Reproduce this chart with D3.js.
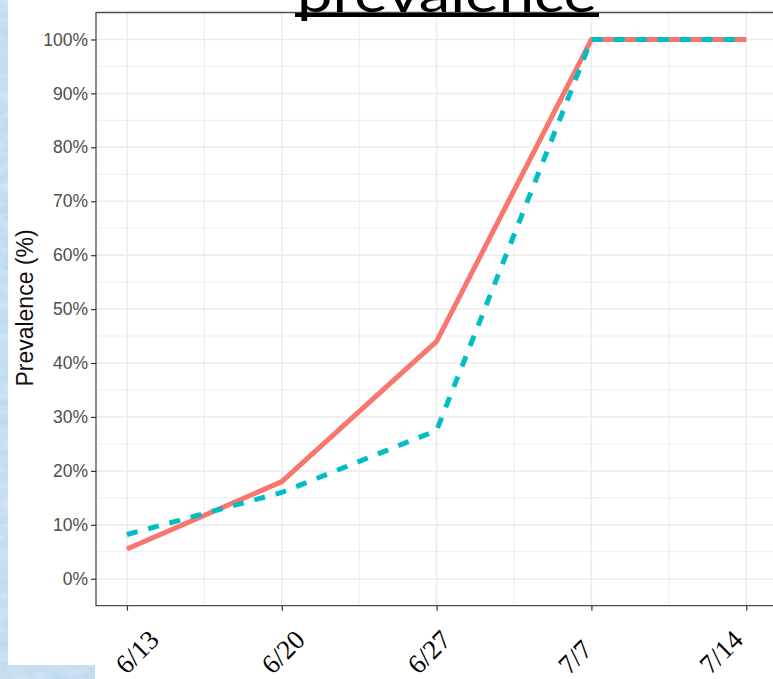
<!DOCTYPE html>
<html>
<head>
<meta charset="utf-8">
<script src="https://cdn.jsdelivr.net/npm/d3@7"></script>
<style>
  html, body { margin: 0; padding: 0; background: #ffffff; }
  svg { display: block; }
</style>
</head>
<body>
<div id="chart"></div>
<script>
// survey weeks and the two prevalence series (fractions)
const weeks = ["6/13", "6/20", "6/27", "7/7", "7/14"];
const solidSeries = [0.055, 0.18, 0.44, 1.00, 1.00];
const dashedSeries = [0.082, 0.16, 0.275, 1.00, 1.00];
const yTicks = [0, 0.1, 0.2, 0.3, 0.4, 0.5, 0.6, 0.7, 0.8, 0.9, 1.0];
const yMinor = [0.05, 0.15, 0.25, 0.35, 0.45, 0.55, 0.65, 0.75, 0.85, 0.95];
const xMinor = [1.5, 2.5, 3.5, 4.5];

const width = 773, height = 679;

const svg = d3.select("#chart").append("svg")
    .attr("width", width)
    .attr("height", height);

// slide background (blue texture) and the white picture box
const defs = svg.append("defs");
const filt = defs.append("filter").attr("id", "tex");
filt.append("feTurbulence").attr("type", "fractalNoise")
    .attr("baseFrequency", "0.06 0.12").attr("numOctaves", 3).attr("seed", 4);
filt.append("feColorMatrix").attr("type", "matrix")
    .attr("values", "0 0 0 0 0.66  0 0 0 0 0.80  0 0 0 0 0.92  0 0 0 -0.9 1.05");
svg.append("rect").attr("width", width).attr("height", height).attr("fill", "#b3d1ec");
svg.append("rect").attr("width", width).attr("height", height).attr("filter", "url(#tex)");

svg.append("path")
    .attr("d", "M8,0H773V679H95V665H8Z")
    .attr("fill", "#ffffff");

// scales (continuous x with 5% expansion, y from -5% to 105%)
const x = d3.scaleLinear().domain([0.8, 5.2]).range([96, 777.2]);
const y = d3.scaleLinear().domain([-0.05, 1.05]).range([605.7, 12.5]);

const panel = svg.append("g");

// gridlines
panel.selectAll(".ymin").data(yMinor).enter().append("line")
    .attr("x1", 96).attr("x2", width)
    .attr("y1", d => y(d)).attr("y2", d => y(d))
    .attr("stroke", "#ededed").attr("stroke-width", 1);
panel.selectAll(".xmin").data(xMinor).enter().append("line")
    .attr("x1", d => x(d)).attr("x2", d => x(d))
    .attr("y1", y(1.05)).attr("y2", y(-0.05))
    .attr("stroke", "#ededed").attr("stroke-width", 1);
panel.selectAll(".ymaj").data(yTicks).enter().append("line")
    .attr("x1", 96).attr("x2", width)
    .attr("y1", d => y(d)).attr("y2", d => y(d))
    .attr("stroke", "#ebebeb").attr("stroke-width", 1.5);
panel.selectAll(".xmaj").data(weeks).enter().append("line")
    .attr("x1", (d, i) => x(i + 1)).attr("x2", (d, i) => x(i + 1))
    .attr("y1", y(1.05)).attr("y2", y(-0.05))
    .attr("stroke", "#ebebeb").attr("stroke-width", 1.5);

// lines
const line = d3.line()
    .x((d, i) => x(i + 1))
    .y(d => y(d));

panel.append("path")
    .datum(solidSeries)
    .attr("d", line)
    .attr("fill", "none")
    .attr("stroke", "#F8766D")
    .attr("stroke-width", 5)
    .attr("stroke-linejoin", "round");

panel.append("path")
    .datum(dashedSeries)
    .attr("d", line)
    .attr("fill", "none")
    .attr("stroke", "#00BFC4")
    .attr("stroke-width", 5)
    .attr("stroke-dasharray", "11,11");

// panel border (right edge is off the picture)
svg.append("path")
    .attr("d", `M${width},${y(1.05)}H96V${y(-0.05)}H${width}`)
    .attr("fill", "none")
    .attr("stroke", "#4d4d4d")
    .attr("stroke-width", 1.3);

// y axis
const yAxis = svg.append("g")
    .attr("transform", "translate(96,0)")
    .call(d3.axisLeft(y).tickValues(yTicks).tickFormat(d3.format(".0%")).tickSize(5).tickPadding(3));
yAxis.select(".domain").remove();
yAxis.selectAll(".tick line").attr("stroke", "#333333").attr("stroke-width", 1.2);
yAxis.selectAll(".tick text")
    .attr("fill", "#4d4d4d")
    .attr("font-family", "'Liberation Sans', Arial, sans-serif")
    .attr("font-size", 17.5);

// x axis ticks
const xAxis = svg.append("g")
    .attr("transform", `translate(0,${y(-0.05)})`)
    .call(d3.axisBottom(x).tickValues([1, 2, 3, 4, 5]).tickFormat("").tickSize(5));
xAxis.select(".domain").remove();
xAxis.selectAll(".tick line").attr("stroke", "#333333").attr("stroke-width", 1.2);

// date labels were set as separate slide text boxes
const labelX = d3.scalePoint().domain(weeks).range([137, 721]);
svg.append("g")
    .attr("font-family", "'Liberation Serif', 'Times New Roman', 'DejaVu Serif', serif")
    .attr("font-size", 27)
  .selectAll("text").data(weeks).enter().append("text")
    .attr("transform", d => `translate(${labelX(d)},${d === "7/7" ? 657 : 652}) rotate(-45)`)
    .attr("text-anchor", "middle")
    .attr("dy", "0.34em")
    .attr("fill", "#000000")
    .text(d => d);

// y title
svg.append("text")
    .attr("transform", "translate(33,308) rotate(-90)")
    .attr("text-anchor", "middle")
    .attr("font-family", "'Liberation Sans', Arial, sans-serif")
    .attr("font-size", 23)
    .attr("fill", "#111111")
    .text("Prevalence (%)");

// slide title (cut off at top, as on the slide)
svg.append("text")
    .attr("x", 297)
    .attr("y", 11.5)
    .attr("textLength", 300)
    .attr("lengthAdjust", "spacingAndGlyphs")
    .attr("font-family", "Lato, 'Open Sans', sans-serif")
    .attr("font-size", 50)
    .attr("fill", "#000000")
    .text("prevalence");
svg.append("rect")
    .attr("x", 295).attr("y", 13)
    .attr("width", 304).attr("height", 4)
    .attr("fill", "#000000");
</script>
</body>
</html>
